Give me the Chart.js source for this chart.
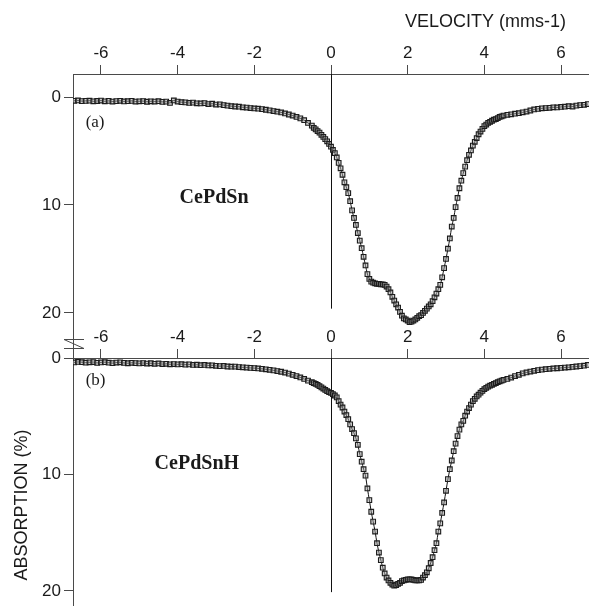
<!DOCTYPE html>
<html>
<head>
<meta charset="utf-8">
<script src="https://cdn.jsdelivr.net/npm/chart.js@4.4.0/dist/chart.umd.min.js"></script>
<style>
  html, body { margin: 0; padding: 0; background: #fff; overflow: hidden; }
  body { width: 589px; height: 606px; position: relative; }
  .panel { position: absolute; left: 0; width: 589px; height: 360px; }
  #panelA { top: 0; }
  #panelB { top: 300px; }
</style>
</head>
<body>
<div class="panel" id="panelA"><canvas id="chartA" width="589" height="360"></canvas></div>
<div class="panel" id="panelB"><canvas id="chartB" width="589" height="360"></canvas></div>
<script>
/* ---------- Data ---------- */
// velocity channels (mm/s): coarse in the wings, fine across the absorption dip
const velocity = [
    -6.7, -6.6, -6.5, -6.4, -6.3, -6.2, -6.1, -6.0, -5.9, -5.8,
    -5.7, -5.6, -5.5, -5.4, -5.3, -5.2, -5.1, -5.0, -4.9, -4.8,
    -4.7, -4.6, -4.5, -4.4, -4.3, -4.2, -4.1, -4.0, -3.9, -3.8,
    -3.7, -3.6, -3.5, -3.4, -3.3, -3.2, -3.1, -3.0, -2.9, -2.8,
    -2.7, -2.6, -2.5, -2.4, -2.3, -2.2, -2.1, -2.0, -1.9, -1.8,
    -1.7, -1.6, -1.5, -1.4, -1.3, -1.2, -1.1, -1.0, -0.9, -0.8,
    -0.7, -0.6, -0.5,
    -0.45, -0.40, -0.35, -0.30, -0.25, -0.20, -0.15, -0.10, -0.05, 0.00,
    0.05, 0.10, 0.15, 0.20, 0.25, 0.30, 0.35, 0.40, 0.45, 0.50,
    0.55, 0.60, 0.65, 0.70, 0.75, 0.80, 0.85, 0.90, 0.95, 1.00,
    1.05, 1.10, 1.15, 1.20, 1.25, 1.30, 1.35, 1.40, 1.45, 1.50,
    1.55, 1.60, 1.65, 1.70, 1.75, 1.80, 1.85, 1.90, 1.95, 2.00,
    2.05, 2.10, 2.15, 2.20, 2.25, 2.30, 2.35, 2.40, 2.45, 2.50,
    2.55, 2.60, 2.65, 2.70, 2.75, 2.80, 2.85, 2.90, 2.95, 3.00,
    3.05, 3.10, 3.15, 3.20, 3.25, 3.30, 3.35, 3.40, 3.45, 3.50,
    3.55, 3.60, 3.65, 3.70, 3.75, 3.80, 3.85, 3.90, 3.95, 4.00,
    4.05, 4.10, 4.15, 4.20, 4.25, 4.30, 4.35, 4.40, 4.45, 4.50,
    4.6, 4.7, 4.8, 4.9, 5.0, 5.1, 5.2, 5.3, 5.4, 5.5,
    5.6, 5.7, 5.8, 5.9, 6.0, 6.1, 6.2, 6.3, 6.4, 6.5,
    6.6, 6.7
];

// (a) CePdSn absorption (%)
const absorptionCePdSn = [
    0.35, 0.32, 0.38, 0.36, 0.34, 0.40, 0.37, 0.33, 0.40, 0.36,
    0.42, 0.38, 0.35, 0.41, 0.39, 0.36, 0.42, 0.40, 0.38, 0.44,
    0.40, 0.42, 0.39, 0.45, 0.43, 0.55, 0.32, 0.42, 0.48, 0.50,
    0.55, 0.52, 0.58, 0.60, 0.57, 0.65, 0.62, 0.70, 0.68, 0.75,
    0.80, 0.85, 0.88, 0.90, 0.95, 0.98, 1.02, 1.06, 1.08, 1.12,
    1.18, 1.24, 1.30, 1.36, 1.43, 1.52, 1.62, 1.72, 1.85, 1.98,
    2.15, 2.40, 2.65,
    2.85, 3.00, 3.15, 3.30, 3.50, 3.70, 3.90, 4.10, 4.35, 4.60,
    4.90, 5.20, 5.60, 6.10, 6.60, 7.20, 7.90, 8.35, 8.90, 9.65,
    10.50, 11.20, 11.85, 12.60, 13.30, 14.00, 14.80, 15.60, 16.40, 16.85,
    17.10, 17.20, 17.25, 17.30, 17.30, 17.35, 17.35, 17.40, 17.55, 17.80,
    18.10, 18.50, 18.85, 19.20, 19.50, 19.90, 20.25, 20.50, 20.60, 20.70,
    20.85, 20.80, 20.70, 20.60, 20.45, 20.30, 20.20, 20.00, 19.80, 19.60,
    19.40, 19.20, 18.90, 18.55, 18.20, 17.80, 17.40, 16.70, 15.85, 15.00,
    14.05, 13.10, 12.00, 11.20, 10.20, 9.35, 8.45, 7.75, 7.05, 6.45,
    5.85, 5.35, 4.95, 4.50, 4.15, 3.80, 3.45, 3.20, 2.95, 2.70,
    2.55, 2.40, 2.30, 2.20, 2.10, 2.05, 1.95, 1.85, 1.80, 1.72,
    1.65, 1.60, 1.55, 1.50, 1.42, 1.35, 1.25, 1.15, 1.10, 1.05,
    1.02, 1.00, 0.95, 0.97, 0.92, 0.90, 0.85, 0.88, 0.80, 0.75,
    0.72, 0.65
];

// (b) CePdSnH absorption (%)
const absorptionCePdSnH = [
    0.38, 0.34, 0.36, 0.40, 0.37, 0.35, 0.42, 0.38, 0.36, 0.40,
    0.44, 0.39, 0.37, 0.42, 0.45, 0.41, 0.44, 0.46, 0.43, 0.48,
    0.45, 0.50, 0.47, 0.52, 0.50, 0.54, 0.52, 0.55, 0.53, 0.57,
    0.55, 0.60, 0.58, 0.62, 0.60, 0.64, 0.63, 0.67, 0.70, 0.68,
    0.73, 0.75, 0.74, 0.78, 0.80, 0.82, 0.85, 0.87, 0.90, 0.93,
    0.97, 1.01, 1.06, 1.12, 1.18, 1.25, 1.34, 1.44, 1.55, 1.67,
    1.80, 1.94, 2.08,
    2.15, 2.22, 2.30, 2.42, 2.52, 2.62, 2.74, 2.85, 2.93, 3.00,
    3.10, 3.22, 3.38, 3.70, 4.00, 4.25, 4.60, 4.90, 5.25, 5.70,
    6.10, 6.45, 6.90, 7.45, 8.25, 8.90, 9.55, 10.10, 11.20, 12.20,
    13.20, 14.05, 14.90, 15.90, 16.70, 17.35, 18.00, 18.50, 18.85, 19.10,
    19.30, 19.45, 19.55, 19.50, 19.40, 19.30, 19.15, 19.10, 19.05, 19.00,
    19.00, 19.00, 19.05, 19.10, 19.10, 19.10, 19.05, 18.85, 18.65, 18.40,
    18.05, 17.60, 17.10, 16.50, 15.90, 14.90, 14.20, 13.30, 12.40, 11.40,
    10.40, 9.55, 8.80, 8.00, 7.35, 6.70, 6.15, 5.70, 5.40, 4.95,
    4.60, 4.30, 4.00, 3.70, 3.50, 3.30, 3.15, 2.98, 2.82, 2.68,
    2.56, 2.46, 2.38, 2.30, 2.22, 2.15, 2.08, 2.00, 1.94, 1.88,
    1.80, 1.68, 1.55, 1.44, 1.32, 1.24, 1.16, 1.10, 1.04, 1.00,
    0.96, 0.93, 0.90, 0.88, 0.85, 0.82, 0.80, 0.76, 0.73, 0.70,
    0.66, 0.60
];

const velocityTicks = [-6, -4, -2, 0, 2, 4, 6];
const absorptionTicks = [0, 10, 20];

/* ---------- Styles ---------- */
const axisColor = "#4a4a4a";
const textColor = "#1a1a1a";
const tickFont = { family: "'Liberation Sans', Arial, sans-serif", size: 17 };
const titleFont = { family: "'Liberation Sans', Arial, sans-serif", size: 18 };
const serifFont = "'Liberation Serif', 'Times New Roman', serif";

// keep the plot area fixed: no extra room reserved for edge tick labels
function noEdgePadding(s) {
    s.paddingTop = 0;
    s.paddingBottom = 0;
    s.paddingLeft = 0;
    s.paddingRight = 0;
}

/* ---------- Overlay: zero line, labels, axis break ---------- */
const overlay = {
    id: "overlay",
    beforeDatasetsDraw(chart, args, opts) {
        const { ctx, chartArea, scales: { x, y } } = chart;
        const x0 = Math.round(x.getPixelForValue(0)) + 0.5;
        ctx.save();
        ctx.strokeStyle = "#111";
        ctx.lineWidth = 1;
        ctx.beginPath();
        ctx.moveTo(x0, chartArea.top);
        ctx.lineTo(x0, y.getPixelForValue(opts.zeroLineEnd));
        ctx.stroke();
        ctx.restore();
    },
    afterDraw(chart, args, opts) {
        const { ctx, chartArea, scales: { x, y } } = chart;
        ctx.save();
        ctx.fillStyle = textColor;
        ctx.textBaseline = "middle";

        ctx.font = "17px " + serifFont;
        ctx.textAlign = "left";
        ctx.fillText(opts.tag, x.getPixelForValue(-6.4), y.getPixelForValue(opts.tagAt));

        ctx.font = "bold 20px " + serifFont;
        ctx.textAlign = "center";
        ctx.fillText(opts.compound, x.getPixelForValue(opts.compoundAt[0]), y.getPixelForValue(opts.compoundAt[1]));

        if (opts.title) {
            ctx.font = `${titleFont.size}px ${titleFont.family}`;
            ctx.textAlign = "right";
            ctx.textBaseline = "alphabetic";
            ctx.fillText(opts.title, x.getPixelForValue(6.13), 27);
        }

        if (opts.axisBreak) {
            const l = chartArea.left, b = chartArea.bottom;
            ctx.strokeStyle = axisColor;
            ctx.lineWidth = 1;
            ctx.beginPath();
            ctx.moveTo(l - 9, b - 18.5); ctx.lineTo(l + 11, b - 18.5);
            ctx.moveTo(l - 9, b - 9.5); ctx.lineTo(l + 11, b - 9.5);
            ctx.moveTo(l - 9, b - 18.5); ctx.lineTo(l + 11, b - 9.5);
            ctx.stroke();
        }
        ctx.restore();
    }
};

/* ---------- Charts ---------- */
function makePanel(canvasId, values, p) {
    return new Chart(document.getElementById(canvasId), {
        type: "line",
        data: {
            datasets: [{
                data: velocity.map((v, i) => ({ x: v, y: values[i] })),
                borderColor: "#111",
                borderWidth: 1,
                tension: 0.2,
                pointStyle: "rect",
                pointRadius: 3.3,
                pointBorderWidth: 1.1,
                pointBorderColor: "#1c1c1c",
                pointBackgroundColor: "rgba(150,150,150,0.45)"
            }]
        },
        options: {
            responsive: false,
            animation: false,
            layout: { autoPadding: false, padding: { left: 0, right: 0, top: 0, bottom: p.padBottom } },
            plugins: {
                legend: { display: false },
                tooltip: { enabled: false },
                overlay: p.overlay
            },
            scales: {
                x: {
                    type: "linear",
                    position: "top",
                    min: -6.73,
                    max: 6.73,
                    afterBuildTicks: s => { s.ticks = velocityTicks.map(v => ({ value: v })); },
                    afterFit: s => { s.height = p.axisTop; noEdgePadding(s); },
                    grid: { display: true, drawOnChartArea: false, drawTicks: true, tickLength: 9, color: axisColor },
                    border: { display: true, color: axisColor, width: 1 },
                    ticks: { color: textColor, font: tickFont, padding: 1, maxRotation: 0, autoSkip: false, callback: v => String(v) }
                },
                y: {
                    type: "linear",
                    position: "left",
                    reverse: true,
                    min: p.yMin,
                    max: p.yMax,
                    afterBuildTicks: s => { s.ticks = absorptionTicks.map(v => ({ value: v })); },
                    afterFit: s => { s.width = 73; noEdgePadding(s); },
                    grid: { display: true, drawOnChartArea: false, drawTicks: true, tickLength: 9, color: axisColor },
                    border: { display: true, color: axisColor, width: 1 },
                    ticks: { color: textColor, font: tickFont, padding: 3, callback: v => String(v) },
                    title: p.yTitle
                        ? { display: true, text: p.yTitle, color: textColor, font: titleFont, padding: { top: 11, bottom: 0 } }
                        : { display: false }
                }
            }
        },
        plugins: [overlay]
    });
}

makePanel("chartA", absorptionCePdSn, {
    padBottom: 2,
    axisTop: 74,
    yMin: -2.13,
    yMax: 24.17,
    overlay: {
        zeroLineEnd: 19.6,
        tag: "(a)",
        tagAt: 2.4,
        compound: "CePdSn",
        compoundAt: [-3.05, 9.35],
        title: "VELOCITY (mms-1)",
        axisBreak: true
    }
});

makePanel("chartB", absorptionCePdSnH, {
    padBottom: 8,
    axisTop: 58,
    yMin: 0,
    yMax: 25.24,
    yTitle: "ABSORPTION (%)",
    overlay: {
        zeroLineEnd: 20.1,
        tag: "(b)",
        tagAt: 1.97,
        compound: "CePdSnH",
        compoundAt: [-3.5, 9.1],
        title: null,
        axisBreak: false
    }
});
</script>
</body>
</html>
